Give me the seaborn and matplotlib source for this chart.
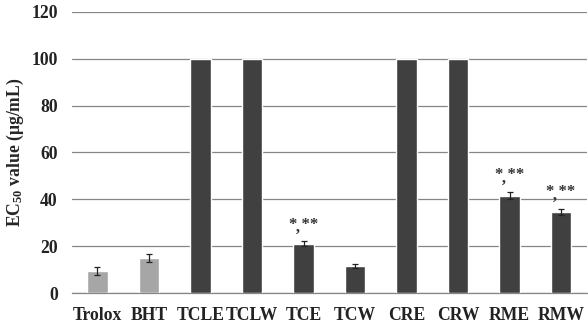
import matplotlib
matplotlib.use("Agg")
import matplotlib.pyplot as plt
import seaborn as sns
import pandas as pd

# values
samples = ["Trolox", "BHT", "TCLE", "TCLW", "TCE", "TCW", "CRE", "CRW", "RME", "RMW"]
ec50 = [9.5, 15.0, 100, 100, 21.0, 11.5, 100, 100, 41.5, 34.5]
err = [1.8, 1.6, 0, 0, 1.0, 0.9, 0, 0, 1.5, 1.2]
starred = ["TCE", "RME", "RMW"]

df = pd.DataFrame({"sample": samples, "ec50": ec50, "err": err})
palette = ["#a6a6a6" if s in ("Trolox", "BHT") else "#404040" for s in samples]

sns.set_style("white")
plt.rcParams["font.family"] = ["Liberation Serif", "DejaVu Serif"]
plt.rcParams["font.weight"] = "bold"
plt.rcParams["mathtext.fontset"] = "custom"
plt.rcParams["mathtext.rm"] = "Liberation Serif:bold"
plt.rcParams["mathtext.it"] = "Liberation Serif:bold"
plt.rcParams["mathtext.bf"] = "Liberation Serif:bold"

FS = 12.7

fig, ax = plt.subplots(figsize=(5.88, 3.30), dpi=100)
sns.barplot(data=df, x="sample", y="ec50", hue="sample", palette=palette,
            legend=False, width=0.4, ax=ax, zorder=3, errorbar=None)

# error bars
for i, (v, e) in enumerate(zip(ec50, err)):
    if e > 0:
        ax.errorbar(i, v, yerr=e, fmt="none", ecolor="#222222", elinewidth=0.9,
                    capsize=2, capthick=0.9, zorder=4)

# significance marks (stars with the small tick under them)
for s in starred:
    i = samples.index(s)
    top = ec50[i] + err[i]
    ax.text(i, top - 1.2, "* **\n\u02bc   ", ha="center", va="bottom",
            fontsize=12, color="#333333", linespacing=0.65)

ax.set_ylim(0, 120)
ax.set_xlim(-0.5, len(samples) - 0.5)
ax.set_yticks(range(0, 121, 20))
ax.yaxis.grid(True, color="#868686", linewidth=0.9, zorder=0)
ax.set_axisbelow(True)

for sp in ["top", "right", "left"]:
    ax.spines[sp].set_visible(False)
ax.spines["bottom"].set_color("#868686")
ax.spines["bottom"].set_linewidth(0.9)

# tick marks between categories
ax.set_xticks([i + 0.5 for i in range(-1, len(samples))], minor=True)
ax.tick_params(axis="x", which="minor", length=4, color="#868686", width=0.9, direction="out")
ax.tick_params(axis="x", which="major", length=0, labelsize=FS, pad=10)
ax.tick_params(axis="y", length=0, labelsize=FS, pad=10)

ax.set_xlabel("")
ax.set_ylabel(r"EC$_{50}$ value (μg/mL)", fontsize=FS, fontweight="bold", labelpad=4)

for lab in ax.get_xticklabels() + ax.get_yticklabels():
    lab.set_fontweight("bold")
    lab.set_color("#222222")

plt.subplots_adjust(left=0.122, right=0.998, bottom=0.112, top=0.964)
plt.savefig("out.png", dpi=100)
